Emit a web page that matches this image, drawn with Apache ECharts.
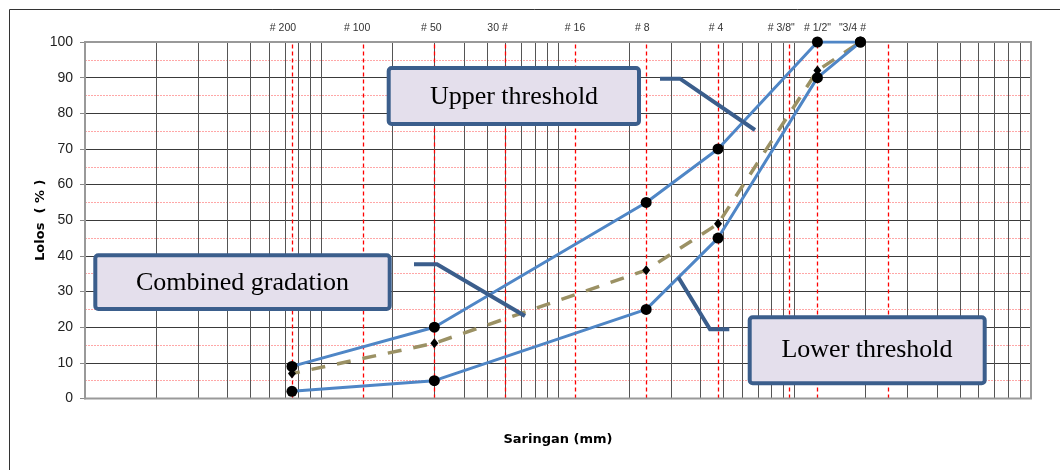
<!DOCTYPE html>
<html><head><meta charset="utf-8">
<script src="https://cdn.jsdelivr.net/npm/echarts@6/dist/echarts.min.js"></script>
<style>html,body{margin:0;padding:0;background:#fff}#c{width:1060px;height:470px}</style>
</head><body><div id="c"></div>
<script>
// ---- data ----
const sieveSizes = [0.075, 0.3, 2.36, 4.75, 12.5, 19];          // mm
const upperThreshold = [9, 20, 55, 70, 100, 100];
const lowerThreshold = [2, 5, 25, 45, 90, 100];
const combinedGradation = [7, 15.5, 36, 49, 92, 100];
const sieveLabelNames = ['# 200', '# 100', '# 50', '30 #', '# 16', '# 8', '# 4', '# 3/8"', '# 1/2"', '"3/4 #'];
const sieveLabelSizes = [0.075, 0.15, 0.3, 0.6, 1.18, 2.36, 4.75, 9.5, 12.5, 19];
const redLineSizes = [0.075, 0.15, 0.3, 0.6, 1.18, 2.36, 4.75, 9.5, 12.5, 25];
const gridDecades = [0.01, 0.1, 1, 10];
const gridMultipliers = [1, 2, 3, 4, 5, 6, 7, 8, 9];

// ---- styling ----
const labelOffsets = [-9, -6, -3, -8, 0, -4, -2, -8, 0, -8];
const BLUE = '#4f86c6', OLIVE = '#9b9164', BOX = '#3b5e8c', BOXFILL = '#e4dfec';

const gridValues = [];
gridDecades.forEach(d => gridMultipliers.forEach(m => { const v = +(d * m).toPrecision(6); if (v > 0.01) gridValues.push(v); }));

const pairs = arr => sieveSizes.map((s, i) => [s, arr[i]]);

const chart = echarts.init(document.getElementById('c'), null, {renderer: 'canvas'});
const boxText = (text, x, y) => ({type: 'text', z: 61, style: {text, x, y, align: 'center', verticalAlign: 'middle', font: '26px "Liberation Serif", "Times New Roman", serif', fill: '#000'}});
const box = (x, y, w, h) => ({type: 'rect', z: 60, shape: {x, y, width: w, height: h, r: 3}, style: {fill: BOXFILL, stroke: BOX, lineWidth: 4}});
const conn = pts => ({type: 'polyline', z: 59, shape: {points: pts}, style: {stroke: BOX, lineWidth: 4, fill: null, lineJoin: 'miter'}});

chart.setOption({
  animation: false,
  backgroundColor: '#fff',
  grid: {left: 85, top: 42, right: 29, height: 356.5},
  xAxis: {
    type: 'log', logBase: 10, min: 0.01, max: 100,
    axisLabel: {show: false}, axisTick: {show: false}, axisLine: {show: false}, splitLine: {show: false},
    name: 'Saringan (mm)', nameLocation: 'middle', nameGap: 35, nameMoveOverlap: false,
    nameTextStyle: {fontFamily: '"DejaVu Sans", Verdana, sans-serif', fontWeight: 'bold', fontSize: 13, color: '#000'}
  },
  yAxis: {
    type: 'value', min: 0, max: 100, interval: 10,
    axisLine: {show: true, lineStyle: {color: '#999', width: 2}},
    axisTick: {show: true, length: 5, lineStyle: {color: '#888'}},
    axisLabel: {margin: 12, fontFamily: '"Liberation Sans", Arial, sans-serif', fontSize: 14, color: '#222'},
    splitLine: {show: true, lineStyle: {color: '#3a3a3a', width: 1}},
    minorTick: {show: false, splitNumber: 2},
    minorSplitLine: {show: true, lineStyle: {color: 'rgba(255,60,60,0.45)', width: 1, type: [2, 1]}},
    name: 'Lolos  ( % )', nameLocation: 'middle', nameGap: 38, nameMoveOverlap: false,
    nameTextStyle: {fontFamily: '"DejaVu Sans", Verdana, sans-serif', fontWeight: 'bold', fontSize: 13, color: '#000'}
  },
  graphic: [
    {type: 'line', z: 70, shape: {x1: 9.5, y1: 9.5, x2: 1060, y2: 9.5}, style: {stroke: '#333', lineWidth: 1}},
    {type: 'line', z: 70, shape: {x1: 9.5, y1: 9.5, x2: 9.5, y2: 470}, style: {stroke: '#333', lineWidth: 1}},
    {type: 'rect', z: 1.5, shape: {x: 85, y: 42, width: 946, height: 356.5}, style: {fill: null, stroke: '#999', lineWidth: 2}},
    conn([[660, 78.7], [680, 78.7], [755, 130]]),
    conn([[414, 264.3], [437, 264.3], [525, 316]]),
    conn([[729.3, 329.3], [710, 329.3], [678.3, 277.3]]),
    box(388.7, 68, 250.3, 56), boxText('Upper threshold', 514, 97),
    box(95.3, 255.3, 294.4, 53.7), boxText('Combined gradation', 242.5, 282.7),
    box(749.7, 317.3, 235, 66), boxText('Lower threshold', 867, 350.3)
  ],
  series: [
    {type: 'line', name: 'grid', data: [], z: 1, silent: true,
      markLine: {z: 1, precision: 5, silent: true, symbol: ['none', 'none'], label: {show: false}, animation: false,
        lineStyle: {color: '#555', width: 1, type: 'solid'},
        data: gridValues.map(v => ({xAxis: v}))}},
    {type: 'line', name: 'sieves', data: [], z: 1.2, silent: true,
      markLine: {z: 1.2, precision: 5, silent: true, symbol: ['none', 'none'], label: {show: false}, animation: false,
        lineStyle: {color: '#ff0000', width: 1.3, type: [4, 3]},
        data: redLineSizes.map(v => ({xAxis: v}))}},
    {type: 'line', name: 'labels', data: [], z: 1.3, silent: true,
      markLine: {z: 1.3, precision: 5, silent: true, symbol: ['none', 'none'], animation: false,
        lineStyle: {color: 'rgba(0,0,0,0)', width: 1},
        label: {show: true, position: 'end', formatter: '{b}', distance: 8, color: '#333', fontSize: 10.5, fontFamily: '"Liberation Sans", Arial, sans-serif'},
        data: sieveLabelSizes.map((v, i) => ({xAxis: v, name: sieveLabelNames[i], label: {offset: [labelOffsets[i], 0]}}))}},
    {type: 'line', name: 'Combined gradation', data: pairs(combinedGradation), z: 3,
      lineStyle: {color: OLIVE, width: 3.5, type: [14, 12], dashOffset: 6}, symbol: 'diamond', symbolSize: [8, 10],
      itemStyle: {color: '#000'}},
    {type: 'line', name: 'Upper threshold', data: pairs(upperThreshold), z: 4,
      lineStyle: {color: BLUE, width: 3}, symbol: 'circle', symbolSize: 11, itemStyle: {color: '#000'}},
    {type: 'line', name: 'Lower threshold', data: pairs(lowerThreshold), z: 4,
      lineStyle: {color: BLUE, width: 3}, symbol: 'circle', symbolSize: 11, itemStyle: {color: '#000'}}
  ]
});
</script></body></html>
